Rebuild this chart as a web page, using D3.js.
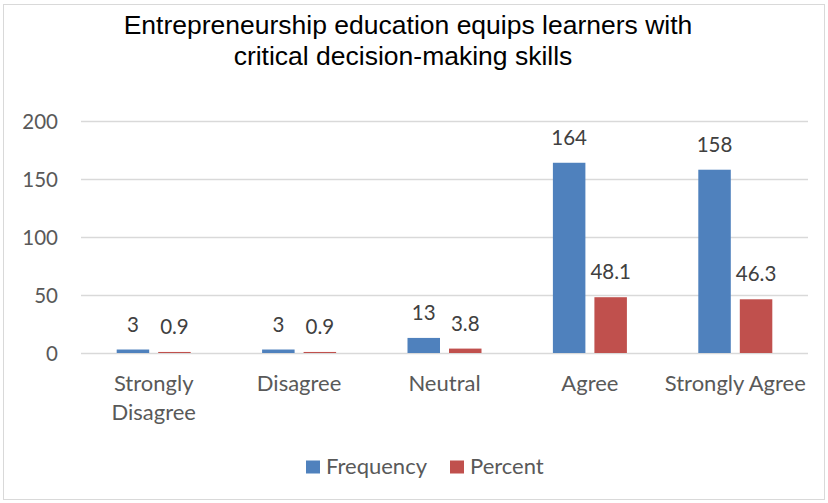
<!DOCTYPE html>
<html>
<head>
<meta charset="utf-8">
<script src="https://cdn.jsdelivr.net/npm/d3@7"></script>
<style>
  html, body { margin: 0; padding: 0; background: #fff; }
  svg { display: block; }
</style>
</head>
<body>
<svg id="chart" width="828" height="503"></svg>
<script>
// Survey responses: frequency and percent per agreement level
const categories = ["Strongly Disagree", "Disagree", "Neutral", "Agree", "Strongly Agree"];
const categoryLines = [["Strongly", "Disagree"], ["Disagree"], ["Neutral"], ["Agree"], ["Strongly Agree"]];
const frequency = [3, 3, 13, 164, 158];
const percent = [0.9, 0.9, 3.8, 48.1, 46.3];
const seriesNames = ["Frequency", "Percent"];
const seriesColors = ["#4f81bd", "#c0504d"];
const yTicks = [0, 50, 100, 150, 200];
const titleLines = ["Entrepreneurship education equips learners with", "critical decision-making skills"];

const W = 828, H = 503;
const svg = d3.select("#chart");
const labelFont = "Lato, 'Open Sans', sans-serif";
const textGray = "#595959";

// outer frame
svg.append("rect")
  .attr("x", 3.5).attr("y", 4.5)
  .attr("width", W - 7).attr("height", H - 8)
  .attr("fill", "#fff").attr("stroke", "#d9d9d9").attr("stroke-width", 1);

// title
const titleX = [408, 403];
svg.append("g").selectAll("text").data(titleLines).join("text")
  .attr("x", (d, i) => titleX[i]).attr("y", (d, i) => 33.5 + i * 31.5)
  .attr("text-anchor", "middle")
  .attr("font-family", "'Liberation Sans', Arial, sans-serif")
  .attr("font-size", 26.5)
  .attr("fill", "#000")
  .text(d => d);

const x = d3.scaleBand().domain(categories).range([81, 808]).paddingInner(0).paddingOuter(0);
const y = d3.scaleLinear().domain([0, 200]).range([353, 121]);
const inner = d3.scaleBand().domain(seriesNames).range([0, x.bandwidth()]).paddingInner(0.217).paddingOuter(0.86);

// gridlines and y-axis labels
const yAxis = d3.axisLeft(y).tickValues(yTicks).tickSize(-(808 - 81)).tickPadding(23);
const gy = svg.append("g").attr("transform", "translate(81,0)").call(yAxis);
gy.select(".domain").remove();
gy.selectAll(".tick line").attr("stroke", "#d9d9d9").attr("stroke-width", 1.3);
gy.selectAll(".tick text")
  .attr("font-family", labelFont).attr("font-size", 20.5)
  .attr("fill", textGray).attr("dy", "0.35em");

// bars with value labels
const series = [frequency, percent];
series.forEach((vals, si) => {
  svg.append("g").selectAll("rect").data(vals).join("rect")
    .attr("x", (d, i) => x(categories[i]) + inner(seriesNames[si]))
    .attr("width", inner.bandwidth())
    .attr("y", d => y(d))
    .attr("height", d => y(0) - y(d))
    .attr("fill", seriesColors[si]);
  svg.append("g").selectAll("text").data(vals).join("text")
    .attr("x", (d, i) => x(categories[i]) + inner(seriesNames[si]) + inner.bandwidth() / 2)
    .attr("y", d => y(d) - 18)
    .attr("text-anchor", "middle")
    .attr("font-family", labelFont).attr("font-size", 20.5)
    .attr("fill", "#404040")
    .text(d => d);
});

// category labels
const gx = svg.append("g");
categoryLines.forEach((lines, i) => {
  const cx = x(categories[i]) + x.bandwidth() / 2;
  const t = gx.append("text")
    .attr("x", cx)
    .attr("y", 391)
    .attr("text-anchor", "middle")
    .attr("font-family", labelFont).attr("font-size", 22)
    .attr("fill", textGray);
  lines.forEach((ln, j) => {
    t.append("tspan").attr("x", cx).attr("dy", j === 0 ? 0 : 29).text(ln);
  });
});

// legend
const legendItems = [{ name: "Frequency", color: seriesColors[0], x: 306 }, { name: "Percent", color: seriesColors[1], x: 450 }];
const lg = svg.append("g");
legendItems.forEach(it => {
  lg.append("rect").attr("x", it.x).attr("y", 460.5).attr("width", 14).attr("height", 13).attr("fill", it.color);
  lg.append("text").attr("x", it.x + 20).attr("y", 474)
    .attr("font-family", labelFont).attr("font-size", 22)
    .attr("fill", textGray).text(it.name);
});
</script>
</body>
</html>
